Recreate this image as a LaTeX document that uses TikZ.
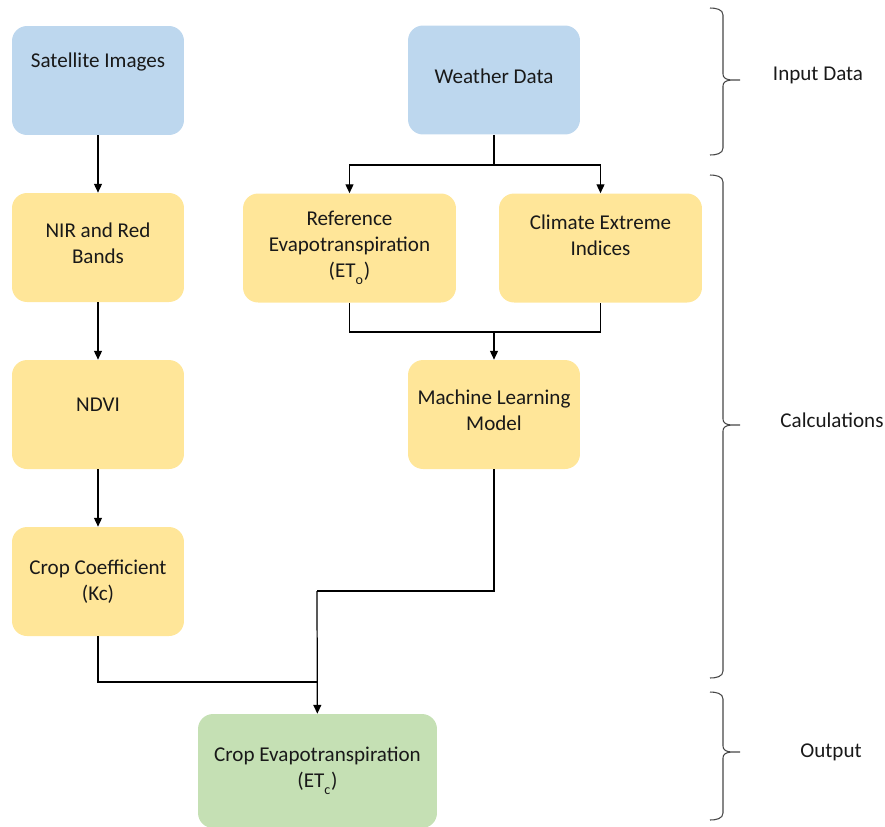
\documentclass[tikz,border=0pt]{standalone}
\usepackage{fontspec}
\setmainfont{Carlito}
\usetikzlibrary{arrows.meta}
\definecolor{inblue}{RGB}{189,215,238}
\definecolor{calcyellow}{RGB}{255,230,153}
\definecolor{outgreen}{RGB}{197,224,180}
\definecolor{bracegray}{RGB}{70,70,70}
\newcommand{\lowsub}[1]{\raisebox{-0.4ex}{\textsubscript{#1}}}
\newcommand{\databrace}[3]{%
\draw [bracegray,line width=0.6pt] (710,#1) to [out=0,in=90] (723,#1+7) -- (723,#2-6)
  to [out=-90,in=180] (740,#2) to [out=180,in=90] (723,#2+6) -- (723,#3-7) to [out=-90,in=0] (710,#3);}

\begin{document}
\begin{tikzpicture}[x=0.02cm,y=-0.02cm,
  every node/.style={font=\fontsize{12}{14.8}\selectfont,text=black!90},
  box/.style={rounded corners=0.3cm,align=center,inner sep=0pt,minimum height=2.18cm},
  flow/.style={line width=0.7pt,-{Triangle[width=4.5pt,length=5pt]}},
  link/.style={line width=0.7pt}]
\useasboundingbox (0,0) rectangle (885,826);

\node [box,fill=inblue,minimum width=3.44cm] (sat) at (98,80.5) {Satellite Images\\[8pt]\mbox{}};
\node [box,fill=inblue,minimum width=3.44cm] (weather) at (494,80) {Weather Data\\[-10pt]\mbox{}};
\node [box,fill=calcyellow,minimum width=3.44cm] (nir) at (98,247.5) {NIR and Red\\Bands\\[-10pt]\mbox{}};
\node [box,fill=calcyellow,minimum width=4.26cm] (ref) at (349.5,248) {Reference\\Evapotranspiration\\(ET\lowsub{o})};
\node [box,fill=calcyellow,minimum width=4.06cm] (clim) at (600.5,248) {Climate Extreme\\Indices\\\mbox{}};
\node [box,fill=calcyellow,minimum width=3.44cm] (ndvi) at (98,414.5) {NDVI\\[-4pt]\mbox{}};
\node [box,fill=calcyellow,minimum width=3.44cm] (ml) at (494,414.5) {Machine Learning\\Model\\[-10pt]\mbox{}};
\node [box,fill=calcyellow,minimum width=3.44cm] (kc) at (98,581.5) {Crop Coefficient\\(Kc)};
\node [box,fill=outgreen,minimum width=4.78cm,minimum height=2.28cm] (etc) at (317.5,771) {Crop Evapotranspiration\\(ET\lowsub{c})\\[-10pt]\mbox{}};

\coordinate (split) at (494,165);
\coordinate (merge) at (494,332);
\coordinate (bend) at (317,591);
\coordinate (meet) at (317,682);

\draw [flow] (sat) -- (nir);
\draw [flow] (nir) -- (ndvi);
\draw [flow] (ndvi) -- (kc);
\draw [link] (weather) -- (split);
\draw [flow] (split) -| (ref);
\draw [flow] (split) -| (clim);
\draw [link] (ref) |- (merge) -| (clim);
\draw [flow] (merge) -- (ml);
\draw [link] (ml) |- (bend);
\draw [flow] (bend) -- (etc);
\draw [link] (kc) |- (meet);

\databrace{8}{80}{155}
\databrace{175}{425}{678}
\databrace{692}{752}{820}

\node (input) at (818,75) {Input Data};
\node (calc) at (832,420) {Calculations};
\node (output) at (831,752) {Output};
\end{tikzpicture}
\end{document}
